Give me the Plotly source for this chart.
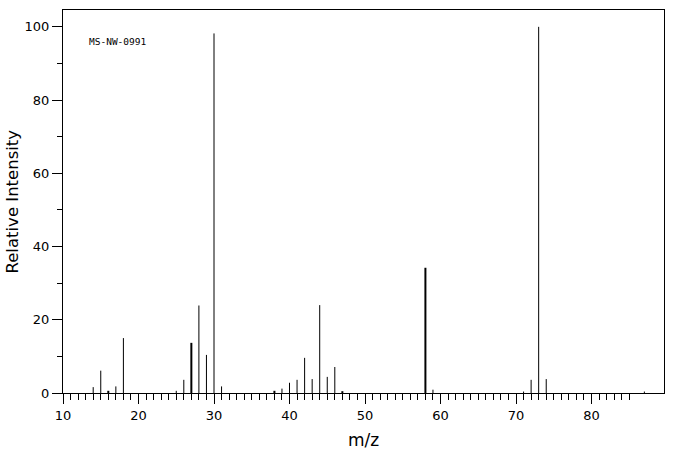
import plotly.graph_objects as go

# m/z values and relative intensities
mz = [14, 15, 16, 17, 18, 25, 26, 27, 28, 29, 30, 31,
      38, 39, 40, 41, 42, 43, 44, 45, 46, 47,
      58, 59, 71, 72, 73, 74, 87]
intensity = [1.6, 6.1, 0.6, 1.8, 15.0, 0.6, 3.6, 13.7, 23.9, 10.4, 98.2, 1.8,
             0.6, 1.2, 2.8, 3.6, 9.6, 3.8, 24.0, 4.4, 7.1, 0.5,
             34.2, 0.9, 0.4, 3.6, 100.0, 3.8, 0.4]
bold_mz = [16, 27, 38, 47, 58]

label = "MS-NW-0991"
x_major = [10, 20, 30, 40, 50, 60, 70, 80]
y_major = [0, 20, 40, 60, 80, 100]
y_minor = [10, 30, 50, 70, 90]
x_minor = [m for m in range(11, 86) if m % 10 != 0]

def stems(pairs):
    xs, ys = [], []
    for m, v in pairs:
        xs += [m, m, None]
        ys += [0, v, None]
    return xs, ys

thin = [(m, v) for m, v in zip(mz, intensity) if m not in bold_mz]
thick = [(m, v) for m, v in zip(mz, intensity) if m in bold_mz]

fig = go.Figure()
tx, ty = stems(thin)
fig.add_trace(go.Scatter(x=tx, y=ty, mode="lines",
                         line=dict(color="black", width=1), hoverinfo="skip"))
bx, by = stems(thick)
fig.add_trace(go.Scatter(x=bx, y=by, mode="lines",
                         line=dict(color="black", width=2), hoverinfo="skip"))

tick_font = dict(family="DejaVu Sans", size=13, color="black")

fig.update_layout(
    width=676, height=455,
    margin=dict(l=63, r=12, t=10, b=62),
    paper_bgcolor="white", plot_bgcolor="white",
    showlegend=False,
    xaxis=dict(
        range=[10, 89.6], showgrid=False, zeroline=False,
        showline=True, linecolor="black", linewidth=1, mirror=True,
        tickmode="array", tickvals=x_major, ticktext=[str(v) for v in x_major],
        ticks="outside", ticklen=10, tickwidth=1, tickcolor="black",
        tickfont=tick_font,
        minor=dict(tickmode="array", tickvals=x_minor, ticks="outside",
                   ticklen=6, tickwidth=1, tickcolor="black", showgrid=False),
    ),
    yaxis=dict(
        range=[0, 104.6], showgrid=False, zeroline=False,
        showline=True, linecolor="black", linewidth=1, mirror=True,
        tickmode="array", tickvals=y_major, ticktext=[str(v) for v in y_major],
        ticks="outside", ticklen=10, tickwidth=1, tickcolor="black",
        tickfont=tick_font,
        minor=dict(tickmode="array", tickvals=y_minor, ticks="outside",
                   ticklen=5, tickwidth=1, tickcolor="black", showgrid=False),
    ),
    annotations=[
        dict(text="m/z", xref="paper", yref="paper", x=0.5, y=0,
             yanchor="middle", xanchor="center", yshift=-47, showarrow=False,
             font=dict(family="DejaVu Sans", size=17, color="black")),
        dict(text="Relative Intensity", xref="paper", yref="paper", x=0, y=0.5,
             xanchor="center", yanchor="middle", xshift=-51, textangle=-90,
             showarrow=False,
             font=dict(family="DejaVu Sans", size=16.5, color="black")),
        dict(text=label, xref="paper", yref="paper", x=0.04, y=0.919,
             xanchor="left", yanchor="middle", showarrow=False,
             font=dict(family="DejaVu Sans Mono", size=9.5, color="black")),
    ],
)

fig.write_html("out.html")
